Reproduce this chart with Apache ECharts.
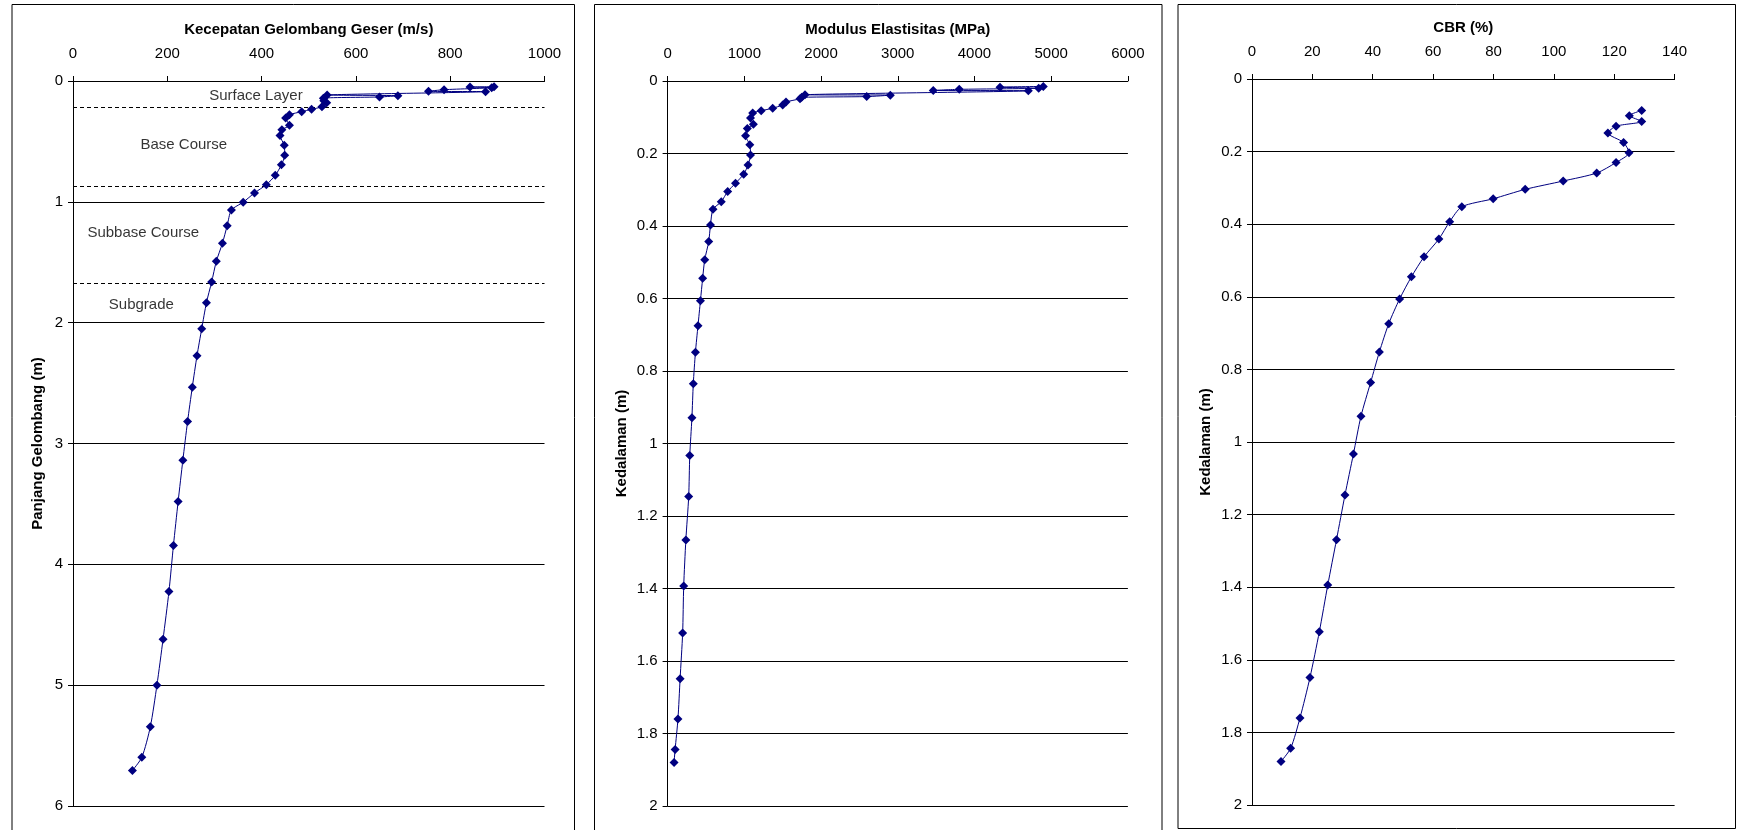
<!DOCTYPE html>
<html>
<head>
<meta charset="utf-8">
<script src="https://cdn.jsdelivr.net/npm/echarts@6/dist/echarts.min.js"></script>
<style>
  html, body { margin: 0; padding: 0; background: #fff; }
  #chart { width: 1739px; height: 830px; }
</style>
</head>
<body>
<div id="chart"></div>
<script>
// ---------- Panel 1: shear wave velocity vs wavelength ----------
const waveLength = [0.047, 0.050, 0.055, 0.072, 0.085, 0.088, 0.116, 0.122, 0.132, 0.143,
  0.163, 0.180, 0.213, 0.234, 0.254, 0.279, 0.307, 0.367, 0.403, 0.452,
  0.532, 0.614, 0.693, 0.781, 0.858, 0.926, 1.003, 1.068, 1.197, 1.342,
  1.492, 1.664, 1.835, 2.05, 2.273, 2.534, 2.818, 3.138, 3.479, 3.844,
  4.225, 4.619, 5.0, 5.344, 5.597, 5.706];
const shearVelocity = [893, 842, 888, 787, 754, 875, 539, 689, 650, 531,
  532, 538, 528, 506, 485, 459, 451, 459, 443, 439,
  448, 449, 442, 429, 410, 385, 361, 336, 327, 317,
  304, 294, 283, 273, 263, 253, 243, 233, 223, 213,
  203.5, 191, 178, 164, 146, 126];

// layer boundaries and labels (panel 1)
const layerBoundaries = [0.22, 0.87, 1.665];
const layerNames = ['Surface Layer', 'Base Course', 'Subbase Course', 'Subgrade'];
const layerLabelVelocity = [388, 235, 149, 145];
const layerLabelWave = [0.12, 0.53, 1.255, 1.85];

// ---------- Panel 2: modulus of elasticity vs depth ----------
const depthE = [0.015, 0.017, 0.020, 0.023, 0.026, 0.027, 0.038, 0.039, 0.043, 0.045,
  0.049, 0.058, 0.066, 0.075, 0.082, 0.088, 0.102, 0.119, 0.131, 0.151,
  0.176, 0.204, 0.232, 0.257, 0.282, 0.305, 0.333, 0.354, 0.397, 0.443,
  0.493, 0.544, 0.606, 0.675, 0.748, 0.835, 0.929, 1.033, 1.146, 1.266,
  1.393, 1.523, 1.649, 1.760, 1.844, 1.880];
const elasticModulus = [4897, 4333, 4837, 3802, 3463, 4702, 1791, 2903, 2595, 1748,
  1726, 1543, 1500, 1370, 1220, 1109, 1081, 1118, 1039, 1016,
  1072, 1081, 1048, 992, 885, 783, 699, 592, 559, 536,
  484, 457, 428, 396, 363, 335, 317, 289, 275, 238,
  210, 196, 163, 135, 98, 84];

// ---------- Panel 3: CBR vs depth ----------
const depthCBR = [0.0866, 0.101, 0.117, 0.130, 0.149, 0.175, 0.203, 0.230, 0.259, 0.281,
  0.304, 0.330, 0.352, 0.393, 0.441, 0.490, 0.545, 0.606, 0.674, 0.752,
  0.836, 0.929, 1.033, 1.146, 1.269, 1.394, 1.523, 1.649, 1.760, 1.844, 1.880];
const cbrValues = [129.1, 125.0, 129.1, 120.6, 117.9, 123.1, 124.9, 120.6, 114.2, 103.1,
  90.5, 79.9, 69.5, 65.5, 61.9, 57.0, 52.8, 48.9, 45.3, 42.2,
  39.3, 36.1, 33.6, 30.8, 28.0, 25.1, 22.3, 19.2, 15.9, 12.8, 9.6];

// axis titles and ranges
const xTitles = ['Kecepatan Gelombang Geser (m/s)', 'Modulus Elastisitas (MPa)', 'CBR (%)'];
const yTitles = ['Panjang Gelombang (m)', 'Kedalaman (m)', 'Kedalaman (m)'];
const xRanges = [[0, 1000, 200], [0, 6000, 1000], [0, 140, 20]];
const yRanges = [[0, 6, 1], [0, 2, 0.2], [0, 2, 0.2]];

const FONT = "'Liberation Sans', Arial, sans-serif";
const NAVY = '#000080';
const FS = 15;
const plainNum = v => String(+(+v).toFixed(6));

const grids = [
  { left: 73, top: 81, width: 471.5, height: 725 },
  { left: 667.6, top: 81, width: 460.3, height: 725 },
  { left: 1252, top: 79, width: 422.6, height: 726 }
];
const yNameGaps = [28, 38, 39];

const xAxes = xRanges.map((r, i) => ({
  type: 'value', gridIndex: i, position: 'top',
  min: r[0], max: r[1], interval: r[2],
  name: xTitles[i], nameLocation: 'middle', nameGap: 44,
  nameTextStyle: { fontFamily: FONT, fontWeight: 'bold', fontSize: FS, color: '#000' },
  axisLine: { show: true, lineStyle: { color: '#000', width: 1 } },
  axisTick: { show: true, inside: false, length: 5, lineStyle: { color: '#000' } },
  axisLabel: { fontFamily: FONT, fontSize: FS, color: '#000', margin: 20, formatter: plainNum },
  splitLine: { show: false }
}));

const yAxes = yRanges.map((r, i) => ({
  type: 'value', gridIndex: i, inverse: true,
  min: r[0], max: r[1], interval: r[2],
  name: yTitles[i], nameLocation: 'middle', nameGap: yNameGaps[i],
  nameTextStyle: { fontFamily: FONT, fontWeight: 'bold', fontSize: FS, color: '#000' },
  axisLine: { show: true, onZero: false, lineStyle: { color: '#000', width: 1 } },
  axisTick: { show: true, inside: false, length: 5, lineStyle: { color: '#000' } },
  axisLabel: { fontFamily: FONT, fontSize: FS, color: '#000', margin: 10, formatter: plainNum },
  splitLine: { show: true, lineStyle: { color: '#000', width: 1 } }
}));

function lineSeries(idx, xs, ys) {
  return {
    type: 'line', xAxisIndex: idx, yAxisIndex: idx,
    data: xs.map((v, k) => [v, ys[k]]),
    smooth: 0.25,
    symbol: 'diamond', symbolSize: 9,
    itemStyle: { color: NAVY },
    lineStyle: { color: NAVY, width: 1 },
    z: 5
  };
}

const series = [
  lineSeries(0, shearVelocity, waveLength),
  lineSeries(1, elasticModulus, depthE),
  lineSeries(2, cbrValues, depthCBR),
  {
    type: 'scatter', xAxisIndex: 0, yAxisIndex: 0,
    symbolSize: 1,
    itemStyle: { color: 'transparent' },
    data: layerNames.map((n, i) => ({ name: n, value: [layerLabelVelocity[i], layerLabelWave[i]] })),
    label: { show: true, position: 'inside', formatter: '{b}', fontFamily: FONT, fontSize: FS, color: '#000' },
    markLine: {
      silent: true, symbol: 'none',
      label: { show: false },
      lineStyle: { color: '#000', width: 1, type: [4, 3] },
      data: layerBoundaries.map(v => ({ yAxis: v }))
    },
    z: 3
  }
];

const frames = [
  { x: 12, y: 4.5, w: 562.5, h: 840 },
  { x: 594.5, y: 4.5, w: 567.5, h: 840 },
  { x: 1178, y: 4.5, w: 557.5, h: 824 }
];

const chart = echarts.init(document.getElementById('chart'), null, { renderer: 'canvas' });
chart.setOption({
  animation: false,
  backgroundColor: '#fff',
  textStyle: { fontFamily: FONT },
  grid: grids,
  xAxis: xAxes,
  yAxis: yAxes,
  series: series,
  graphic: frames.map(f => ({
    type: 'rect', silent: true, z: 0,
    shape: { x: f.x, y: f.y, width: f.w, height: f.h },
    style: { fill: 'none', stroke: '#000', lineWidth: 1 }
  }))
});
</script>
</body>
</html>
